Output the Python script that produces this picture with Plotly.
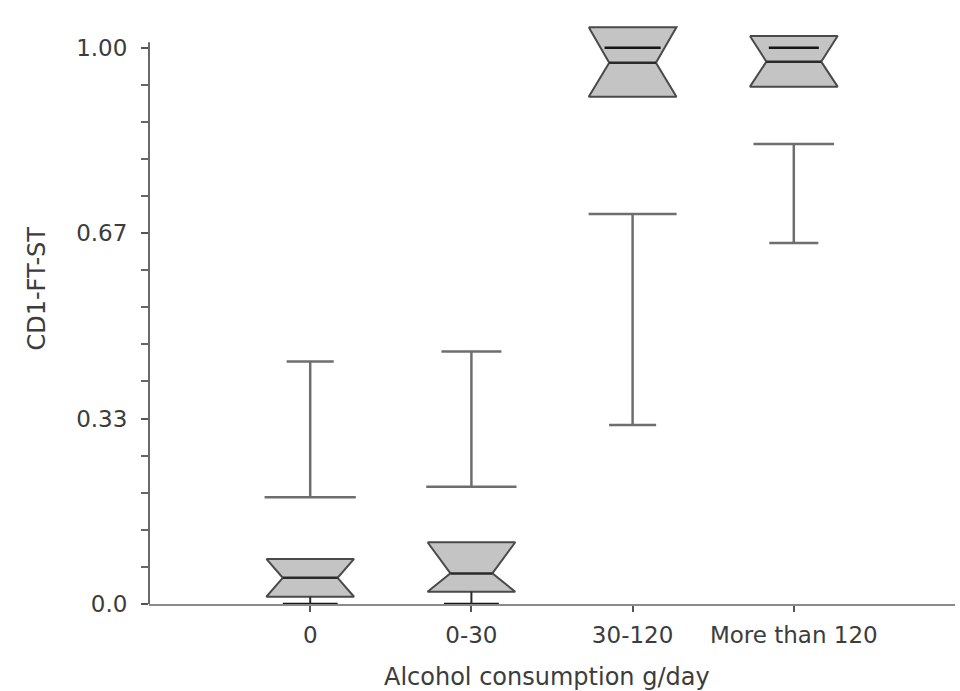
import plotly.graph_objects as go

# ---- data ----
categories = ["0", "0-30", "30-120", "More than 120"]
q1 = [0.013, 0.022, 0.912, 0.930]
median = [0.047, 0.055, 0.973, 0.975]
q3 = [0.081, 0.111, 1.037, 1.021]
extreme = [0.0, 0.0, 1.0, 1.0]          # black limit line (data bound)
bracket_low = [0.192, 0.211, 0.322, 0.649]
bracket_high = [0.436, 0.454, 0.701, 0.827]
ytick_vals = [0, 1/3, 2/3, 1]
ytick_text = ["0.0", "0.33", "0.67", "1.00"]
yminor_vals = [k / 15 for k in range(16)]

# ---- styles ----
BOX_HALF = 0.272
WAIST_HALF = [0.17, 0.13, 0.145, 0.17]
CAP_TOP_HALF = [0.146, 0.186, 0.273, 0.25]
CAP_BOT_HALF = [0.283, 0.28, 0.146, 0.152]
LIMIT_HALF = [0.17, 0.17, 0.174, 0.155]
FILL = "#c4c4c4"
EDGE = "#4a4a4a"
BRK = "#6e6e6e"
FONT = "DejaVu Sans"
TXT = "#3c3c3c"

positions = [i + 1 for i in range(len(categories))]

fig = go.Figure()

# brackets (I shapes)
for p, lo, hi, ct, cb in zip(positions, bracket_low, bracket_high, CAP_TOP_HALF, CAP_BOT_HALF):
    fig.add_trace(go.Scatter(
        x=[p - ct, p + ct, None, p, p, None, p - cb, p + cb],
        y=[hi, hi, None, hi, lo, None, lo, lo],
        mode="lines", line=dict(color=BRK, width=2.5),
        hoverinfo="skip", showlegend=False))

# notched boxes (hourglass shape)
for p, a, m, b, w in zip(positions, q1, median, q3, WAIST_HALF):
    fig.add_trace(go.Scatter(
        x=[p - BOX_HALF, p + BOX_HALF, p + w, p + BOX_HALF, p - BOX_HALF, p - w, p - BOX_HALF],
        y=[b, b, m, a, a, m, b],
        mode="lines", fill="toself", fillcolor=FILL,
        line=dict(color=EDGE, width=2),
        hoverinfo="skip", showlegend=False))
    fig.add_trace(go.Scatter(
        x=[p - w, p + w], y=[m, m], mode="lines",
        line=dict(color="#2a2a2a", width=2.5),
        hoverinfo="skip", showlegend=False))

# limit lines and whisker stubs down to the bound
for p, a, e, lh in zip(positions, q1, extreme, LIMIT_HALF):
    fig.add_trace(go.Scatter(
        x=[p - lh, p + lh], y=[e, e], mode="lines",
        line=dict(color="#151515", width=2.5),
        hoverinfo="skip", showlegend=False))
    if e < a:
        fig.add_trace(go.Scatter(
            x=[p, p], y=[a, e], mode="lines",
            line=dict(color="#2a2a2a", width=2),
            hoverinfo="skip", showlegend=False))

# y axis line only from 0 to 1
fig.add_shape(type="line", xref="paper", yref="y", x0=0, x1=0, y0=0, y1=1.01,
              line=dict(color="#6a6a6a", width=2))

fig.add_annotation(text="Alcohol consumption g/day", xref="x", yref="paper",
                   x=2.47, y=-0.122, xanchor="center", yanchor="middle",
                   showarrow=False, font=dict(family=FONT, size=24, color=TXT))
fig.add_annotation(text="CD1-FT-ST", xref="paper", yref="y",
                   x=-0.139, y=0.567, xanchor="center", yanchor="middle",
                   textangle=-90, showarrow=False,
                   font=dict(family=FONT, size=24, color=TXT))

fig.update_layout(
    width=960, height=691,
    margin=dict(l=149, r=5, t=6, b=87),
    paper_bgcolor="white", plot_bgcolor="white",
    showlegend=False,
    font=dict(family=FONT, size=22, color=TXT),
    xaxis=dict(range=[0, 5], tickvals=positions, ticktext=categories,
               showgrid=False, zeroline=False, showline=True,
               linecolor="#8a8a8a", linewidth=2,
               ticks="outside", ticklen=6, tickwidth=2, tickcolor="#555",
               ticklabelstandoff=3,
               tickfont=dict(family=FONT, size=23, color=TXT)),
    yaxis=dict(range=[0, 1.075], tickvals=ytick_vals, ticktext=ytick_text,
               showgrid=False, zeroline=False, showline=False,
               ticks="outside", ticklen=7, tickwidth=2, tickcolor="#555",
               ticklabelstandoff=9,
               tickfont=dict(family=FONT, size=23, color=TXT),
               minor=dict(tickvals=yminor_vals, ticks="outside", ticklen=7,
                          tickwidth=2, tickcolor="#666", showgrid=False)),
)

fig.write_html("out.html")
